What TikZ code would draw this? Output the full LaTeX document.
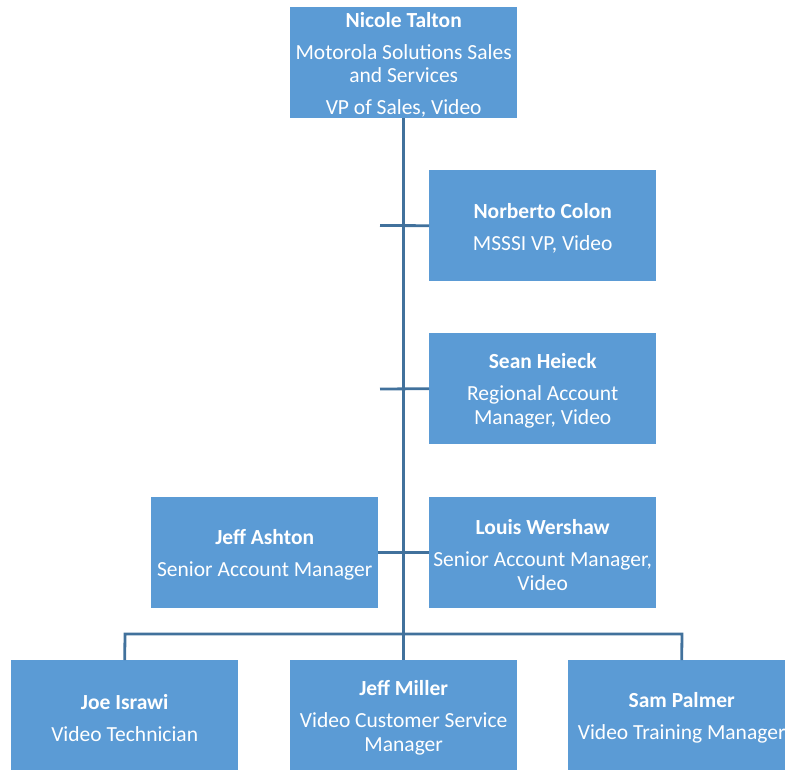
\documentclass[tikz,border=0pt]{standalone}
\usepackage{fontspec}
\setmainfont{Carlito}
\definecolor{boxfill}{HTML}{5B9BD5}
\definecolor{linecol}{HTML}{41719C}
\newcommand\myTopStrut{\rule{0pt}{19.5pt}}
\begin{document}
\begin{tikzpicture}[x=1pt,y=-1pt,
  person/.style={draw=none,fill=boxfill,text=white,minimum width=227pt,minimum height=111pt,
    inner sep=0pt,align=center,font=\fontsize{21.5}{23.5}\selectfont,anchor=north west},
  conn/.style={draw=linecol,line width=2.8pt}]
\useasboundingbox (0,0) rectangle (785,769);
\node[person] (nicole) at (290,7) {\myTopStrut\textbf{Nicole Talton}\\[8.5pt]Motorola Solutions Sales\\and Services\\[8.5pt]VP of Sales, Video};
\node[person] (norberto) at (429,170) {\myTopStrut\textbf{Norberto Colon}\\[8.5pt]MSSSI VP, Video};
\node[person] (sean) at (429,333) {\myTopStrut\textbf{Sean Heieck}\\[8.5pt]Regional Account\\Manager, Video};
\node[person] (ashton) at (151,497) {\myTopStrut\textbf{Jeff Ashton}\\[8.5pt]Senior Account Manager};
\node[person] (louis) at (429,497) {\myTopStrut\textbf{Louis Wershaw}\\[8.5pt]Senior Account Manager,\\Video};
\node[person] (joe) at (11,660) {\myTopStrut\textbf{Joe Israwi}\\[8.5pt]Video Technician};
\node[person] (miller) at (290,660) {\myTopStrut\textbf{Jeff Miller}\\[8.5pt]Video Customer Service\\Manager};
\node[person] (sam) at (568,660) {\myTopStrut\textbf{Sam Palmer}\\[8.5pt]Video Training Manager};
% connectors
\coordinate (barL) at (125,634);
\coordinate (barR) at (682,634);
\coordinate (tickN) at (380,225.5);
\coordinate (tickS) at (380,389);
\draw[conn] (nicole.south) -- (miller.north);
\draw[conn] (norberto.west) -- (tickN);
\draw[conn] (sean.west) -- (tickS);
\draw[conn] (ashton.east) -- (louis.west);
\draw[conn] (joe.north) -- (barL) -- (barR) -- (sam.north);
\end{tikzpicture}
\end{document}
